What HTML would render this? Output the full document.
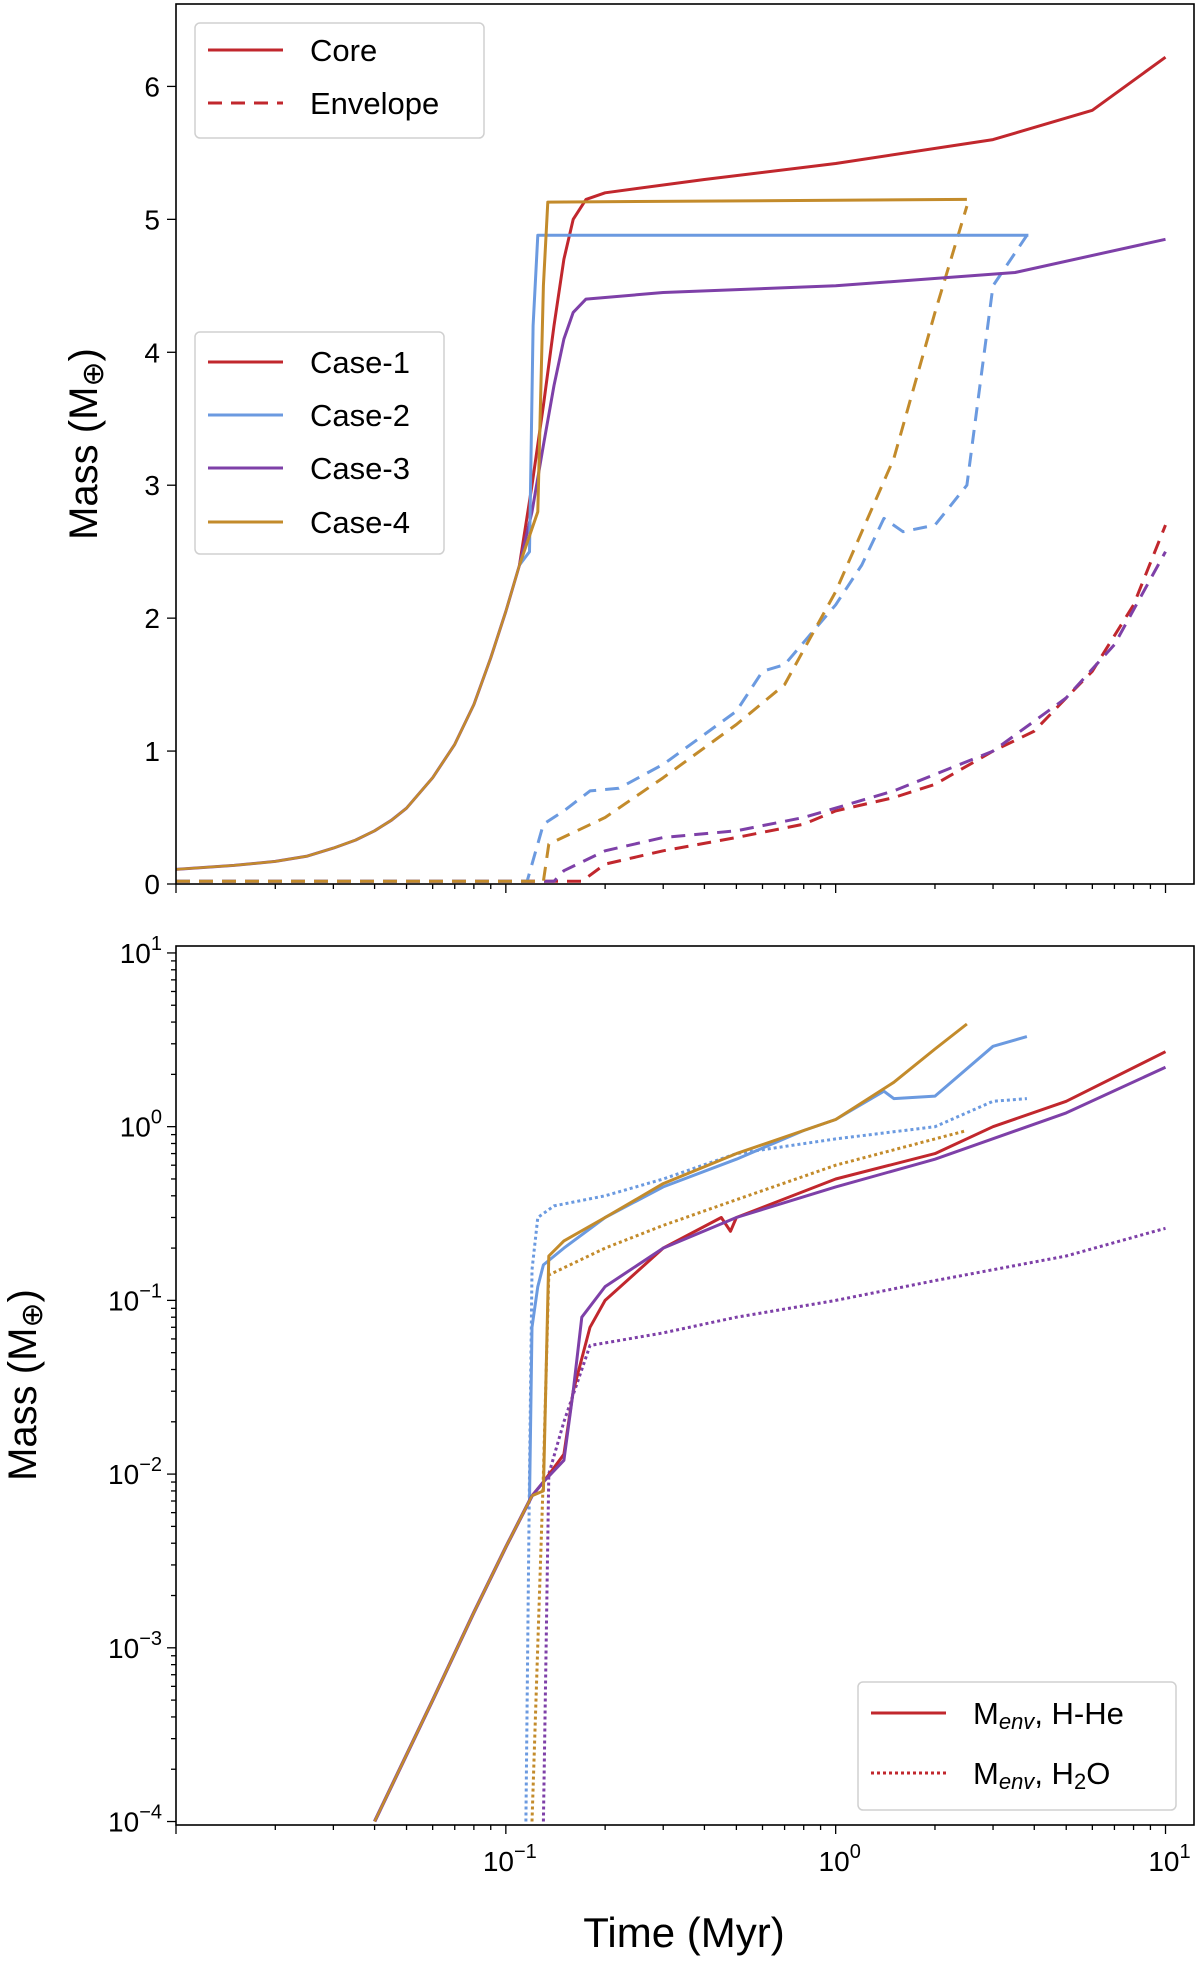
<!DOCTYPE html>
<html><head><meta charset="utf-8"><style>
body{margin:0;background:#fff}
svg{display:block;font-family:"Liberation Sans","DejaVu Sans",sans-serif}
</style></head><body>
<svg id="chart" width="1200" height="1964" viewBox="0 0 1200 1964" xmlns="http://www.w3.org/2000/svg"></svg>
<script>
// ---- data ----
const xTicksTop = [0.1, 1, 10];
const xTickLabels = ["10","10","10"];
const xTickExps = ["−1","0","1"];
const yTicksTop = [0,1,2,3,4,5,6];
const yTicksBot = [1e-4,1e-3,1e-2,1e-1,1,10];
const yTickExpsBot = ["−4","−3","−2","−1","0","1"];

const coreCommonT = [0.01,0.015,0.02,0.025,0.03,0.035,0.04,0.045,0.05,0.06,0.07,0.08,0.09,0.1,0.11];
const coreCommonM = [0.11,0.14,0.17,0.21,0.27,0.33,0.40,0.48,0.57,0.80,1.05,1.35,1.70,2.05,2.40];
const core1T = [0.11,0.12,0.13,0.14,0.15,0.16,0.175,0.2,0.4,1,3,6,10];
const core1M = [2.40,3.0,3.6,4.2,4.7,5.0,5.15,5.2,5.3,5.42,5.6,5.82,6.22];
const core2T = [0.11,0.118,0.121,0.125,3.84];
const core2M = [2.40,2.5,4.2,4.88,4.88];
const core3T = [0.11,0.12,0.13,0.14,0.15,0.16,0.175,0.3,1,3.5,10];
const core3M = [2.40,2.8,3.3,3.75,4.1,4.3,4.4,4.45,4.5,4.6,4.85];
const core4T = [0.11,0.125,0.13,0.134,2.5];
const core4M = [2.40,2.8,4.5,5.13,5.15];

const env1T = [0.01,0.17,0.2,0.3,0.5,0.8,1,1.5,2,3,4,5,6,8,10];
const env1M = [0.02,0.02,0.15,0.25,0.35,0.45,0.55,0.65,0.75,1.0,1.15,1.4,1.6,2.1,2.7];
const env2T = [0.01,0.116,0.13,0.15,0.18,0.22,0.3,0.5,0.6,0.7,1,1.2,1.4,1.6,2,2.5,3,3.8];
const env2M = [0.02,0.02,0.45,0.55,0.7,0.72,0.9,1.3,1.6,1.65,2.1,2.4,2.75,2.65,2.7,3.0,4.5,4.88];
const env3T = [0.01,0.14,0.15,0.2,0.3,0.5,0.8,1.5,3,5,7,10];
const env3M = [0.02,0.02,0.1,0.25,0.35,0.4,0.5,0.7,1.0,1.4,1.8,2.5];
const env4T = [0.01,0.13,0.135,0.2,0.3,0.5,0.7,1,1.5,2,2.5];
const env4M = [0.02,0.02,0.3,0.5,0.8,1.2,1.5,2.2,3.2,4.3,5.1];

const commonLogT = [0.04,0.06,0.08,0.1,0.12];
const commonLogM = [1e-4,5e-4,1.6e-3,3.8e-3,7.5e-3];
const he1T = [0.12,0.13,0.15,0.16,0.18,0.2,0.3,0.45,0.48,0.5,1,2,3,5,10];
const he1M = [0.0075,0.009,0.013,0.03,0.07,0.1,0.2,0.3,0.25,0.3,0.5,0.7,1.0,1.4,2.7];
const he2T = [0.12,0.118,0.12,0.125,0.13,0.15,0.2,0.3,0.5,0.8,1,1.4,1.5,2,3,3.8];
const he2M = [0.0075,0.007,0.07,0.12,0.16,0.2,0.3,0.45,0.65,0.95,1.1,1.6,1.45,1.5,2.9,3.3];
const he3T = [0.12,0.13,0.15,0.16,0.17,0.2,0.3,0.5,1,2,5,10];
const he3M = [0.0075,0.009,0.012,0.03,0.08,0.12,0.2,0.3,0.45,0.65,1.2,2.2];
const he4T = [0.12,0.13,0.135,0.15,0.2,0.3,0.5,1,1.5,2,2.5];
const he4M = [0.0075,0.008,0.18,0.22,0.3,0.47,0.7,1.1,1.8,2.8,3.9];
const w2T = [0.115,0.118,0.12,0.125,0.14,0.2,0.3,0.5,1,2,3,3.8];
const w2M = [1e-4,0.01,0.15,0.3,0.35,0.4,0.5,0.7,0.85,1.0,1.4,1.45];
const w4T = [0.12,0.13,0.135,0.2,0.3,0.5,1,2,2.5];
const w4M = [1e-4,0.01,0.14,0.2,0.27,0.38,0.6,0.85,0.95];
const w3T = [0.13,0.135,0.15,0.17,0.18,0.3,0.5,1,2,5,10];
const w3M = [1e-4,0.01,0.02,0.04,0.055,0.065,0.08,0.1,0.13,0.18,0.26];

// ---- layout ----
const C = {red:"#c1272d", blue:"#6b9ae0", purple:"#7e40a8", gold:"#c38b2b"};
const L=176, R=1194;
const T1=4, B1=884, T2=946, B2=1825;
const xmin=Math.log10(0.01), xmax=Math.log10(12.2);
const X = t => L + (Math.log10(t)-xmin)/(xmax-xmin)*(R-L);
const Y1 = m => B1 - m/6.62*(B1-T1);
const ymin2=-4.02, ymax2=1.04;
const Y2 = m => B2 - (Math.log10(m)-ymin2)/(ymax2-ymin2)*(B2-T2);
const svg=document.getElementById('chart');
const NS="http://www.w3.org/2000/svg";
function el(tag, attrs, parent){const e=document.createElementNS(NS,tag);for(const k in attrs)e.setAttribute(k,attrs[k]);(parent||svg).appendChild(e);return e;}

function clipRect(id,t,b){const cp=el('clipPath',{id:id});el('rect',{x:L,y:t,width:R-L,height:b-t},cp);}
clipRect('c1',T1,B1);clipRect('c2',T2,B2);

function line(ts,ms,yf,color,dash,name,clip,w){
  const d=ts.map((t,i)=>(i?'L':'M')+X(t).toFixed(1)+','+yf(ms[i]).toFixed(1)).join(' ');
  const p=el('path',{d:d,fill:'none',stroke:color,'stroke-width':w||3,'stroke-dasharray':dash||'none','clip-path':'url(#'+clip+')','stroke-linejoin':'round'});
  
  
  return p;
}
// ---- top panel ----
line(env1T,env1M,Y1,C.red,'14,9','envelope-case-1','c1');
line(env3T,env3M,Y1,C.purple,'14,9','envelope-case-3','c1');
line(env2T,env2M,Y1,C.blue,'14,9','envelope-case-2','c1');
line(env4T,env4M,Y1,C.gold,'14,9','envelope-case-4','c1');
line(core1T,core1M,Y1,C.red,null,'core-case-1','c1');
line(core3T,core3M,Y1,C.purple,null,'core-case-3','c1');
line(core2T,core2M,Y1,C.blue,null,'core-case-2','c1');
line(core4T,core4M,Y1,C.gold,null,'core-case-4','c1');
line(coreCommonT,coreCommonM,Y1,C.purple,null,'core-common-under','c1',3);
line(coreCommonT,coreCommonM,Y1,C.gold,null,'core-common','c1',2.5);

// ---- bottom panel ----
line(w3T,w3M,Y2,C.purple,'3,3','h2o-case-3','c2');
line(w4T,w4M,Y2,C.gold,'3,3','h2o-case-4','c2');
line(w2T,w2M,Y2,C.blue,'3,3','h2o-case-2','c2');
line(he1T,he1M,Y2,C.red,null,'hhe-case-1','c2');
line(he3T,he3M,Y2,C.purple,null,'hhe-case-3','c2');
line(he2T,he2M,Y2,C.blue,null,'hhe-case-2','c2');
line(he4T,he4M,Y2,C.gold,null,'hhe-case-4','c2');
line(commonLogT,commonLogM,Y2,C.purple,null,'hhe-common-under','c2',3.5);
line(commonLogT,commonLogM,Y2,C.gold,null,'hhe-common','c2',2.5);

// ---- axes ----
function frame(t,b,name){const r=el('rect',{x:L,y:t,width:R-L,height:b-t,fill:'none',stroke:'#000','stroke-width':1.6});}
frame(T1,B1,'top-plot-frame');frame(T2,B2,'bottom-plot-frame');
function xTicks(b,labels){
  for(let e=-2;e<=1;e++)for(let k=1;k<10;k++){const t=k*Math.pow(10,e);if(t<0.01||t>12.2)continue;const x=X(t);const len=k==1?9:5;
    const tk=el('line',{x1:x,y1:b,x2:x,y2:b+len,stroke:'#000','stroke-width':1.3});}
  if(labels) xTicksTop.forEach((t,i)=>{const tx=el('text',{x:X(t)+4,y:b+46,'font-size':28,'text-anchor':'middle'});tx.textContent=xTickLabels[i];
    const sp=el('tspan',{dy:-13,'font-size':20},tx);sp.textContent=xTickExps[i];});
}
xTicks(B1,false);xTicks(B2,true);
yTicksTop.forEach(v=>{const y=Y1(v);el('line',{x1:L-9,y1:y,x2:L,y2:y,stroke:'#000','stroke-width':1.3});
  const tx=el('text',{x:L-16,y:y+10,'font-size':28,'text-anchor':'end'});tx.textContent=v;});
for(let e=-4;e<=1;e++)for(let k=1;k<10;k++){const m=k*Math.pow(10,e);if(Math.log10(m)>ymax2)continue;const y=Y2(m);el('line',{x1:L-(k==1?9:5),y1:y,x2:L,y2:y,stroke:'#000','stroke-width':1.3});}
yTicksBot.forEach((v,i)=>{const y=Y2(v);const tx=el('text',{x:L-14,y:y+10,'font-size':28,'text-anchor':'end'});tx.textContent='10';
  const sp=el('tspan',{dy:-13,'font-size':20},tx);sp.textContent=yTickExpsBot[i];});
function ylabel(cx,cy,name){const tx=el('text',{x:0,y:0,'font-size':40,'text-anchor':'middle',transform:`translate(${cx},${cy}) rotate(-90)`});tx.textContent='Mass (M';const s=el('tspan',{'font-size':30,dy:6},tx);s.textContent='⊕';const s2=el('tspan',{dy:-6},tx);s2.textContent=')';}
ylabel(97,444,'top-y-axis-title');ylabel(36,1385,'bottom-y-axis-title');
const xl=el('text',{x:684,y:1947,'font-size':42,'text-anchor':'middle'});xl.textContent='Time (Myr)';

// ---- legends ----
function legend(x,y,w,h,name,rows){
  const g=el('g',{});
  el('rect',{x:x,y:y,width:w,height:h,rx:5,fill:'#fff','fill-opacity':0.85,stroke:'#d0d0d0','stroke-width':1.5},g);
  rows.forEach(r=>{el('line',{x1:x+13,y1:r.y,x2:x+88,y2:r.y,stroke:r.c,'stroke-width':3,'stroke-dasharray':r.d||'none'},g);
    const t=el('text',{x:x+115,y:r.y+11,'font-size':31},g);t.innerHTML=r.t;});
}
legend(195,23,289,115,'style-legend',[{y:50,c:C.red,t:'Core'},{y:103,c:C.red,d:'14,9',t:'Envelope'}]);
legend(195,332,249,222,'case-legend',[{y:362,c:C.red,t:'Case-1'},{y:415,c:C.blue,t:'Case-2'},{y:468,c:C.purple,t:'Case-3'},{y:522,c:C.gold,t:'Case-4'}]);
legend(858,1682,318,128,'component-legend',[{y:1713,c:C.red,t:'M<tspan font-size="22" font-style="italic" dy="5">env</tspan><tspan dy="-5">, H-He</tspan>'},{y:1773,c:C.red,d:'3,3',t:'M<tspan font-size="22" font-style="italic" dy="5">env</tspan><tspan dy="-5">, H</tspan><tspan font-size="22" dy="5">2</tspan><tspan dy="-5">O</tspan>'}]);
</script>
</body></html>
